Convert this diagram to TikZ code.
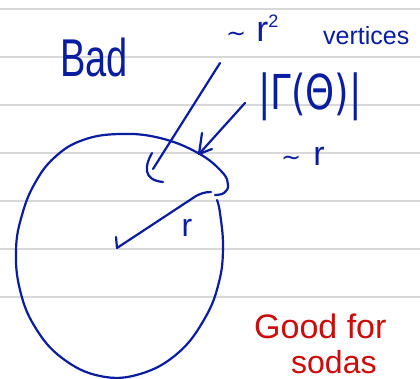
\documentclass[tikz,border=0pt]{standalone}
\usepackage{fontspec}
\usepackage{graphicx}
\setmainfont{Liberation Sans}
\newfontfamily\symfont{DejaVu Sans}
\definecolor{ink}{RGB}{10,28,160}
\definecolor{redink}{RGB}{205,12,12}
\definecolor{ruleline}{RGB}{216,216,216}
\begin{document}
\begin{tikzpicture}[x=1pt,y=-1pt,
  pen/.style={draw=ink, line width=2.2pt, line cap=round, line join=round},
  bluetext/.style={text=ink, inner sep=0pt},
  redtext/.style={text=redink, inner sep=0pt}]
\useasboundingbox (0,0) rectangle (420,379);
\fill[white] (0,0) rectangle (420,379);
\foreach \yy in {9,57,105,153,201,249,297}
  \draw[ruleline, line width=2pt] (0,\yy) -- (420,\yy);

% ball
\draw[pen] plot[smooth, tension=0.7] coordinates {(215,195) (224,193) (228,185) (222,172) (198,153) (160,138) (120,134) (83,140) (55,157) (35,183) (22,215) (16,250) (20,290) (35,327) (62,358) (100,376) (140,374) (178,353) (205,318) (219,282) (223,247) (220,213) (217,200)};

% radius
\coordinate (rim) at (211,192);
\coordinate (ctr) at (117,248);
\coordinate (tick) at (116,237);
\draw[pen] (rim) .. controls (204,192) and (200,194) .. (196,196) -- (ctr) -- (tick);
\node[bluetext, font=\fontsize{32}{32}\selectfont] (rlab) at (187,228) {r};

% labels
\node[bluetext, anchor=base west, font=\fontsize{38}{38}\selectfont] (bad) at (60,77) {\scalebox{1}[1.4]{Bad}};
\node[bluetext, anchor=base west, font=\fontsize{36}{36}\selectfont] (rsq) at (226,42) {{\fontsize{24}{24}\symfont ∼}\hspace{10pt}r\raisebox{14pt}{\fontsize{18}{18}\selectfont 2}};
\node[bluetext, anchor=base west, font=\fontsize{25}{25}\selectfont] (vert) at (323,45) {vertices};
\node[bluetext, font=\fontsize{37}{37}\symfont] (bdry) at (310,97) {\scalebox{1}[1.3]{|Γ(Θ)|}};
\node[bluetext, anchor=base west, font=\fontsize{34}{34}\selectfont] (simr) at (281,166) {{\fontsize{24}{24}\symfont ∼}\hspace{12pt}r};

\node[redtext, anchor=base west, font=\fontsize{34}{34}\selectfont] (good) at (254,338) {Good for};
\node[redtext, anchor=base west, font=\fontsize{32}{32}\selectfont] (sodas) at (291,373) {sodas};

% arrows
\coordinate (a1s) at (220,63);
\coordinate (a1e) at (153,169);
\draw[pen] (a1s) -- (a1e);
\draw[pen] (152,153) .. controls (145,165) and (142,180) .. (163,182);

\coordinate (a2s) at (245,103);
\coordinate (a2e) at (199,154);
\draw[pen] (a2s) -- (a2e);
\draw[pen] (202,133) -- (a2e) -- (212,149);
\end{tikzpicture}
\end{document}
